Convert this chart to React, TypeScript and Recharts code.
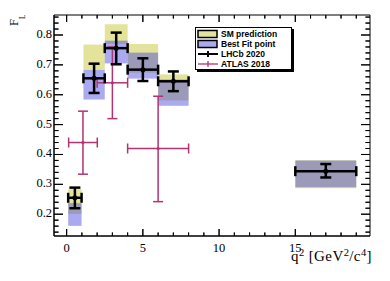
import React from 'react';
import { ComposedChart, XAxis, YAxis, Scatter, ErrorBar, ReferenceArea, ReferenceLine } from 'recharts';

// LHCb 2020 q2 bins [GeV^2/c^4] and measured F_L
const lhcbBinLow = [0.1, 1.1, 2.5, 4, 6, 15];
const lhcbBinHigh = [0.98, 2.5, 4, 6, 8, 19];
const lhcbFL = [0.255, 0.655, 0.756, 0.684, 0.645, 0.344];
const lhcbErrDown = [0.035, 0.049, 0.054, 0.038, 0.033, 0.021];
const lhcbErrUp = [0.034, 0.049, 0.052, 0.038, 0.033, 0.024];

// SM prediction and best fit bands, same bins
const smLow = [0.201, 0.683, 0.770, 0.674, 0.581, 0.287];
const smHigh = [0.284, 0.768, 0.836, 0.770, 0.668, 0.381];
const bfLow = [0.161, 0.584, 0.705, 0.654, 0.563, 0.290];
const bfHigh = [0.237, 0.683, 0.781, 0.741, 0.651, 0.380];

// ATLAS 2018
const atlasQ2 = [1.07, 3, 6];
const atlasQ2Err = [0.94, 1, 2];
const atlasFL = [0.44, 0.64, 0.42];
const atlasErrDown = [0.106, 0.12, 0.178];
const atlasErrUp = [0.105, 0.12, 0.175];

const xTicks = [0, 1, 2, 3, 4, 5, 6, 7, 8, 9, 10, 11, 12, 13, 14, 15, 16, 17, 18, 19];
const xLabels = [0, 5, 10, 15];
const yTicks = [0.14, 0.16, 0.18, 0.2, 0.22, 0.24, 0.26, 0.28, 0.3, 0.32, 0.34, 0.36, 0.38, 0.4, 0.42, 0.44, 0.46, 0.48, 0.5,
  0.52, 0.54, 0.56, 0.58, 0.6, 0.62, 0.64, 0.66, 0.68, 0.7, 0.72, 0.74, 0.76, 0.78, 0.8, 0.82, 0.84, 0.86];
const yLabels = [0.2, 0.3, 0.4, 0.5, 0.6, 0.7, 0.8];

const legendItems = [
  { label: 'SM prediction', kind: 'box', color: '#e3e39b' },
  { label: 'Best Fit point', kind: 'box', color: '#aaaaf0' },
  { label: 'LHCb 2020', kind: 'line', color: '#000000' },
  { label: 'ATLAS 2018', kind: 'line', color: '#b03472' },
];

const X_DOMAIN = [-0.83, 19.9];
const Y_DOMAIN = [0.127, 0.867];
const W = 390;
const H = 281;
const MARGIN = { top: 15, right: 20, bottom: 0, left: 0 };
const Y_AXIS_W = 54;
const X_AXIS_H = 45;
const PLOT_W = W - MARGIN.left - MARGIN.right - Y_AXIS_W;
const PLOT_H = H - MARGIN.top - MARGIN.bottom - X_AXIS_H;
// pixels per data unit, used only to turn tick lengths (px) into segment lengths
const X_PX = PLOT_W / (X_DOMAIN[1] - X_DOMAIN[0]);
const Y_PX = PLOT_H / (Y_DOMAIN[1] - Y_DOMAIN[0]);

const YELLOW = '#e3e39b';
const BLUE = '#4242de';
const ATLAS = '#b03472';
const SERIF = '"Liberation Serif", "Times New Roman", serif';

const lhcbData = lhcbFL.map((y, i) => ({
  x: (lhcbBinLow[i] + lhcbBinHigh[i]) / 2,
  y,
  ex: (lhcbBinHigh[i] - lhcbBinLow[i]) / 2,
  ey: [lhcbErrDown[i], lhcbErrUp[i]],
}));

const atlasData = atlasFL.map((y, i) => ({
  x: atlasQ2[i],
  y,
  ex: atlasQ2Err[i],
  ey: [atlasErrDown[i], atlasErrUp[i]],
}));

const isYMajor = (v: number) => yLabels.some(l => Math.abs(l - v) < 1e-6);
const xTickLen = (v: number) => (xLabels.includes(v) ? 7 : 3.5);
const yTickLen = (v: number) => (isYMajor(v) ? 9 : 4.5);

const BottomTick = ({ x, y, payload }: any) => {
  const len = xTickLen(payload.value);
  const top = y - PLOT_H;
  return (
    <g>
      <line x1={x} y1={y} x2={x} y2={y - len} stroke="#000" strokeWidth={1} />
      <line x1={x} y1={top} x2={x} y2={top + len} stroke="#000" strokeWidth={1} />
      {xLabels.includes(payload.value) && (
        <text x={x} y={y + 16} textAnchor="middle" fontFamily={SERIF} fontSize={12.5} fill="#000">
          {payload.value}
        </text>
      )}
    </g>
  );
};

const LeftTick = ({ x, y, payload }: any) => {
  const len = yTickLen(payload.value);
  const right = x + PLOT_W;
  return (
    <g>
      <line x1={x} y1={y} x2={x + len} y2={y} stroke="#000" strokeWidth={1} />
      <line x1={right} y1={y} x2={right - len} y2={y} stroke="#000" strokeWidth={1} />
      {isYMajor(payload.value) && (
        <text x={x - 2} y={y + 3} textAnchor="end" fontFamily={SERIF} fontSize={12.5} fill="#000">
          {payload.value.toFixed(1)}
        </text>
      )}
    </g>
  );
};

const LegendBox = () => (
  <div style={{
    position: 'absolute', left: 195, top: 27, width: 95, height: 40, border: '1px solid #000',
    boxShadow: '2px 2px 0 #000', background: '#fff', paddingTop: 1,
    fontFamily: '"Liberation Sans", Arial, sans-serif', fontWeight: 'bold', fontSize: 8.5, color: '#000',
  }}>
    {legendItems.map(item => (
      <div key={item.label} style={{ height: 10, display: 'flex', alignItems: 'center' }}>
        <svg width={22} height={10} style={{ marginLeft: 1, marginRight: 2 }}>
          {item.kind === 'box' ? (
            <rect x={1} y={1.5} width={19} height={7} fill={item.color} stroke="#000" strokeWidth={1.5} />
          ) : (
            <g stroke={item.color} strokeWidth={item.color === '#000000' ? 2 : 1.3}>
              <line x1={1} y1={5} x2={21} y2={5} />
              <line x1={11} y1={2} x2={11} y2={8} />
            </g>
          )}
        </svg>
        <span style={{ lineHeight: '10px', whiteSpace: 'nowrap' }}>{item.label}</span>
      </div>
    ))}
  </div>
);

const Titles = () => (
  <svg width={W} height={H} style={{ position: 'absolute', left: 0, top: 0, pointerEvents: 'none' }}>
    <text transform="translate(18.3,14.5) rotate(-90)" textAnchor="end" fontFamily={SERIF} fontSize={12.5} fill="#000">
      F<tspan dy={6.7} fontSize={7.5}>L</tspan>
    </text>
    <text x={372} y={261} textAnchor="end" fontFamily={SERIF} fontSize={15} letterSpacing={0.4} fill="#000">
      q<tspan dy={-5.5} fontSize={10.5}>2</tspan>
      <tspan dy={5.5}> [GeV</tspan>
      <tspan dy={-5.5} fontSize={10.5}>2</tspan>
      <tspan dy={5.5}>/c</tspan>
      <tspan dy={-5.5} fontSize={10.5}>4</tspan>
      <tspan dy={5.5}>]</tspan>
    </text>
  </svg>
);

export default function App() {
  return (
    <div style={{ position: 'absolute', left: 0, top: 0, width: W, height: H, background: '#fff' }}>
      <ComposedChart width={W} height={H} margin={MARGIN}>
        <XAxis xAxisId="b" dataKey="x" type="number" domain={X_DOMAIN} allowDataOverflow ticks={xTicks}
          interval={0} tickSize={0} tickMargin={0} tickLine={false} height={X_AXIS_H}
          axisLine={{ stroke: '#000', strokeWidth: 1 }} tick={<BottomTick />} />
        <YAxis yAxisId="l" dataKey="y" type="number" domain={Y_DOMAIN} allowDataOverflow ticks={yTicks}
          interval={0} tickSize={0} tickMargin={0} tickLine={false} width={Y_AXIS_W}
          axisLine={{ stroke: '#000', strokeWidth: 1 }} tick={<LeftTick />} />

        {smLow.map((lo, i) => (
          <ReferenceArea key={`sm${i}`} xAxisId="b" yAxisId="l" x1={lhcbBinLow[i]} x2={lhcbBinHigh[i]}
            y1={lo} y2={smHigh[i]} fill={YELLOW} fillOpacity={1} stroke="none" />
        ))}
        {bfLow.map((lo, i) => (
          <ReferenceArea key={`bf${i}`} xAxisId="b" yAxisId="l" x1={lhcbBinLow[i]} x2={lhcbBinHigh[i]}
            y1={lo} y2={bfHigh[i]} fill={BLUE} fillOpacity={0.45} stroke="none" />
        ))}
        {/* plot frame */}
        <ReferenceArea xAxisId="b" yAxisId="l" x1={X_DOMAIN[0]} x2={X_DOMAIN[1]} y1={Y_DOMAIN[0]} y2={Y_DOMAIN[1]}
          fill="#ffffff" fillOpacity={0} stroke="#000" strokeWidth={1} ifOverflow="visible" />

        {/* inward ticks on all four sides */}
        {xTicks.map(v => (
          <ReferenceLine key={`xb${v}`} xAxisId="b" yAxisId="l" ifOverflow="visible" stroke="#000" strokeWidth={1}
            segment={[{ x: v, y: Y_DOMAIN[0] }, { x: v, y: Y_DOMAIN[0] + xTickLen(v) / Y_PX }]} />
        ))}
        {xTicks.map(v => (
          <ReferenceLine key={`xt${v}`} xAxisId="b" yAxisId="l" ifOverflow="visible" stroke="#000" strokeWidth={1}
            segment={[{ x: v, y: Y_DOMAIN[1] }, { x: v, y: Y_DOMAIN[1] - xTickLen(v) / Y_PX }]} />
        ))}
        {yTicks.map(v => (
          <ReferenceLine key={`yl${v}`} xAxisId="b" yAxisId="l" ifOverflow="visible" stroke="#000" strokeWidth={1}
            segment={[{ x: X_DOMAIN[0], y: v }, { x: X_DOMAIN[0] + yTickLen(v) / X_PX, y: v }]} />
        ))}
        {yTicks.map(v => (
          <ReferenceLine key={`yr${v}`} xAxisId="b" yAxisId="l" ifOverflow="visible" stroke="#000" strokeWidth={1}
            segment={[{ x: X_DOMAIN[1], y: v }, { x: X_DOMAIN[1] - yTickLen(v) / X_PX, y: v }]} />
        ))}

        <Scatter name="ATLAS 2018" data={atlasData} xAxisId="b" yAxisId="l" isAnimationActive={false}
          shape={(p: any) => <circle cx={p.cx} cy={p.cy} r={1.6} fill={ATLAS} />}>
          <ErrorBar dataKey="ex" direction="x" width={5} stroke={ATLAS} strokeWidth={1.5} isAnimationActive={false} />
          <ErrorBar dataKey="ey" direction="y" width={5} stroke={ATLAS} strokeWidth={1.5} isAnimationActive={false} />
        </Scatter>
        <Scatter name="LHCb 2020" data={lhcbData} xAxisId="b" yAxisId="l" isAnimationActive={false}
          shape={(p: any) => <circle cx={p.cx} cy={p.cy} r={2.5} fill="#000" />}>
          <ErrorBar dataKey="ex" direction="x" width={5} stroke="#000" strokeWidth={2.5} isAnimationActive={false} />
          <ErrorBar dataKey="ey" direction="y" width={5.5} stroke="#000" strokeWidth={2.5} isAnimationActive={false} />
        </Scatter>
      </ComposedChart>
      <Titles />
      <LegendBox />
    </div>
  );
}
